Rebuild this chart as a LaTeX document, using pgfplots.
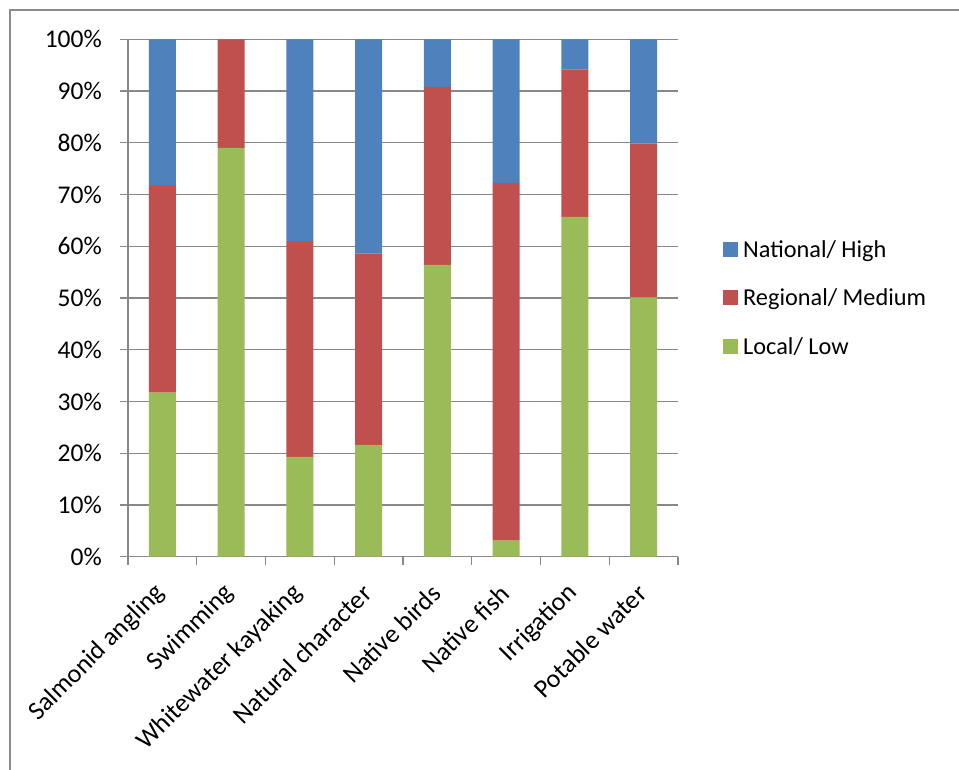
\documentclass[border=0pt]{standalone}
\usepackage{pgfplots}
\pgfplotsset{compat=1.18}
\usepackage{fontspec}
\setmainfont{Carlito}
\definecolor{cblue}{HTML}{4F81BD}
\definecolor{cred}{HTML}{C0504D}
\definecolor{cgreen}{HTML}{9BBB59}
\definecolor{cgrid}{HTML}{888888}
\definecolor{cframe}{HTML}{8C8C8C}
\begin{document}
\begin{tikzpicture}[x=1pt,y=1pt]
\useasboundingbox (0,0) rectangle (959,769);
\fill[white] (0,0) rectangle (959,769);
\draw[cframe,line width=1.5pt] (10,-5) -- (10,759) -- (970,759);
\begin{axis}[
  at={(128pt,212.3pt)}, anchor=south west,
  scale only axis, width=550pt, height=517.4pt,
  xmin=0, xmax=8, ymin=0, ymax=100,
  ybar stacked, bar width=27pt,
  axis lines*=left,
  axis line style={cgrid,line width=1.2pt},
  xtick={0.5,1.5,...,7.5},
  xticklabels={Salmonid angling,Swimming,Whitewater kayaking,Natural character,Native birds,Native fish,Irrigation,Potable water},
  minor xtick={0,1,...,8},
  major tick length=0pt,
  ytick={0,10,...,100},
  yticklabel={\pgfmathprintnumber{\tick}\%},
  /pgf/number format/assume math mode=true,
  tick align=outside,
  ymajorgrids,
  major grid style={cgrid,line width=1.2pt},
  every minor tick/.style={cgrid,line width=1.2pt},
  minor tick length=8pt,
  extra y ticks={0,10,...,100},
  extra y tick labels={},
  extra y tick style={grid=none, major tick length=8pt, tick style={cgrid,line width=1.2pt}},
  yticklabel style={font=\fontsize{25.5}{30}\selectfont, xshift=-17pt, inner sep=9pt},
  xticklabel style={font=\fontsize{26}{30}\selectfont, xshift=1.5pt, yshift=-29.5pt, rotate=45, anchor=east, inner sep=4pt},
  legend style={draw=none, fill=none, at={(1,0.5)}, anchor=west, xshift=45pt,
    font=\fontsize{24.3}{29}\selectfont, row sep=26pt, inner sep=0pt,
    nodes={inner xsep=5pt}},
  legend cell align=left,
  reverse legend,
  legend image code/.code={\fill[#1] (0pt,-7.5pt) rectangle (15pt,7.5pt);},
]
\addplot[fill=cgreen,draw=none] coordinates {(0.5,31.7) (1.5,79.0) (2.5,19.3) (3.5,21.6) (4.5,56.4) (5.5,3.1) (6.5,65.7) (7.5,50.1)};
\addplot[fill=cred,draw=none] coordinates {(0.5,40.1) (1.5,21.0) (2.5,41.7) (3.5,37.0) (4.5,34.4) (5.5,69.1) (6.5,28.5) (7.5,29.8)};
\addplot[fill=cblue,draw=none] coordinates {(0.5,28.2) (1.5,0) (2.5,39.0) (3.5,41.4) (4.5,9.2) (5.5,27.8) (6.5,5.8) (7.5,20.1)};
\legend{Local/ Low,Regional/ Medium,National/ High}
\end{axis}
\end{tikzpicture}
\end{document}
